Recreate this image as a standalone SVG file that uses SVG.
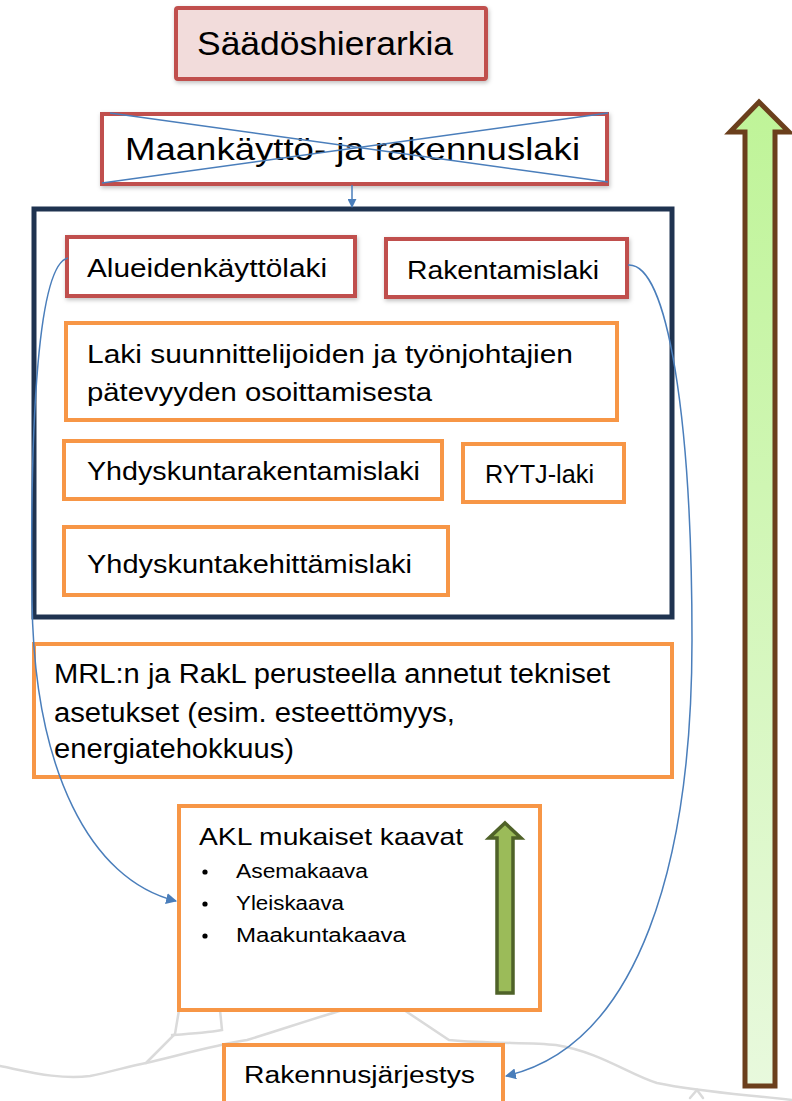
<svg xmlns="http://www.w3.org/2000/svg" width="792" height="1101" viewBox="0 0 792 1101">
<style>
text{font-family:"Liberation Sans",Arial,sans-serif;fill:#000}
.red{fill:#fff;stroke:#c0504d;stroke-width:4}
.org{fill:#fff;stroke:#f79646;stroke-width:4}
.con{fill:none;stroke:#4a7ebb;stroke-width:1.5}
.bg{fill:none;stroke:#dadada;stroke-width:2.5;stroke-linecap:round}
</style>
<defs>
<marker id="ah" viewBox="0 0 10 10" refX="9" refY="5" markerWidth="11" markerHeight="11" markerUnits="userSpaceOnUse" orient="auto"><path d="M0,0 L10,5 L0,10 z" fill="#4a7ebb"/></marker>
<marker id="ahs" viewBox="0 0 10 10" refX="9" refY="5" markerWidth="9" markerHeight="9" markerUnits="userSpaceOnUse" orient="auto"><path d="M0,0 L10,5 L0,10 z" fill="#4a7ebb"/></marker>
<filter id="sh" x="-10%" y="-20%" width="120%" height="150%"><feDropShadow dx="1" dy="2" stdDeviation="2" flood-color="#000" flood-opacity="0.25"/></filter>
<linearGradient id="bigg" x1="0" y1="0" x2="0" y2="1"><stop offset="0" stop-color="#bff498"/><stop offset="1" stop-color="#e8f9dd"/></linearGradient>
</defs>
<rect width="792" height="1101" fill="#fff"/>
<g id="background">
<path class="bg" d="M0,1066 C30,1072 60,1080 90,1076 C110,1072 130,1066 146,1063 C180,1055 215,1045 247,1040 C280,1030 315,1018 343,1010"/>
<path class="bg" d="M179,1010 L175,1034 L146,1063"/>
<path class="bg" d="M220,1010 L222,1030 C205,1033 188,1034 172,1035"/>
<path class="bg" d="M404,1010 L449,1040 C490,1044 530,1042 556,1045 C600,1052 630,1075 657,1083 C700,1092 740,1094 792,1100"/>
<path class="bg" d="M690,1098 L697,1090 L703,1098"/>
</g>
<g id="n-title"><rect x="176" y="8" width="310" height="71" rx="2" fill="#f2dcdb" stroke="#c0504d" stroke-width="4" filter="url(#sh)"/><text x="197" y="55" font-size="34" textLength="256" lengthAdjust="spacingAndGlyphs">Säädöshierarkia</text></g>
<g id="n-mrl"><rect class="red" x="102" y="114" width="505" height="70" filter="url(#sh)"/><text x="125" y="160" font-size="32" textLength="455" lengthAdjust="spacingAndGlyphs">Maankäyttö- ja rakennuslaki</text><line x1="110" y1="113" x2="608" y2="182" stroke="#4a7ebb" stroke-width="1.5"/><line x1="102" y1="183" x2="608" y2="113" stroke="#4a7ebb" stroke-width="1.5"/></g>
<g id="n-group"><rect x="34" y="209" width="638" height="408" fill="none" stroke="#1f3350" stroke-width="5"/></g>
<g id="n-akl"><rect class="red" x="67" y="237" width="288" height="59" filter="url(#sh)"/><text x="87" y="277" font-size="25" textLength="240" lengthAdjust="spacingAndGlyphs">Alueidenkäyttölaki</text></g>
<g id="n-rakl"><rect class="red" x="386" y="239" width="241" height="58" filter="url(#sh)"/><text x="407" y="279" font-size="25" textLength="192" lengthAdjust="spacingAndGlyphs">Rakentamislaki</text></g>
<g id="n-laki"><rect class="org" x="66" y="323" width="551" height="97"/><text x="87" y="363" font-size="26" textLength="486" lengthAdjust="spacingAndGlyphs">Laki suunnittelijoiden ja työnjohtajien</text><text x="87" y="401" font-size="26" textLength="345" lengthAdjust="spacingAndGlyphs">pätevyyden osoittamisesta</text></g>
<g id="n-yrl"><rect class="org" x="64" y="441" width="378" height="58"/><text x="87" y="480" font-size="26" textLength="333" lengthAdjust="spacingAndGlyphs">Yhdyskuntarakentamislaki</text></g>
<g id="n-rytj"><rect class="org" x="463" y="444" width="161" height="58"/><text x="485" y="483" font-size="26" textLength="109" lengthAdjust="spacingAndGlyphs">RYTJ-laki</text></g>
<g id="n-ykl"><rect class="org" x="64" y="527" width="384" height="68"/><text x="87" y="573" font-size="26" textLength="325" lengthAdjust="spacingAndGlyphs">Yhdyskuntakehittämislaki</text></g>
<g id="n-asetukset"><rect class="org" x="34" y="644" width="638" height="133"/><text x="54" y="683" font-size="27" textLength="556" lengthAdjust="spacingAndGlyphs">MRL:n ja RakL perusteella annetut tekniset</text><text x="54" y="722" font-size="27" textLength="401" lengthAdjust="spacingAndGlyphs">asetukset (esim. esteettömyys,</text><text x="54" y="758" font-size="27" textLength="240" lengthAdjust="spacingAndGlyphs">energiatehokkuus)</text></g>
<g id="n-kaavat"><rect class="org" x="179" y="806" width="361" height="204"/><text x="199" y="845" font-size="24" textLength="264" lengthAdjust="spacingAndGlyphs">AKL mukaiset kaavat</text>
<circle cx="205" cy="872" r="2.6"/><circle cx="205" cy="904" r="2.6"/><circle cx="205" cy="936" r="2.6"/>
<text x="236" y="878" font-size="19.5" textLength="132" lengthAdjust="spacingAndGlyphs">Asemakaava</text><text x="236" y="910" font-size="19.5" textLength="108" lengthAdjust="spacingAndGlyphs">Yleiskaava</text><text x="236" y="942" font-size="19.5" textLength="170" lengthAdjust="spacingAndGlyphs">Maakuntakaava</text>
<path d="M505,823 L521,838 L513,838 L513,993 L497,993 L497,838 L489,838 Z" fill="#9bbb59" stroke="#4f6228" stroke-width="3.5" stroke-linejoin="miter"/></g>
<g id="n-rj"><rect class="org" x="224" y="1045" width="279" height="70"/><text x="244" y="1083" font-size="23" textLength="231" lengthAdjust="spacingAndGlyphs">Rakennusjärjestys</text></g>
<g id="n-bigarrow"><path d="M759,102 L789,132 L775,132 L775,1086 L745,1086 L745,132 L730,132 Z" fill="url(#bigg)" stroke="#6b3f1c" stroke-width="5"/></g>
<g id="connectors">
<path class="con" d="M352,185 L352,207" marker-end="url(#ahs)"/>
<path class="con" d="M68,258 C38,264 30,420 32,600 C34,770 90,880 176,901" marker-end="url(#ah)"/>
<path class="con" d="M628,265 C668,262 692,420 692,640 C692,860 640,1045 506,1076" marker-end="url(#ah)"/>
</g>
</svg>
